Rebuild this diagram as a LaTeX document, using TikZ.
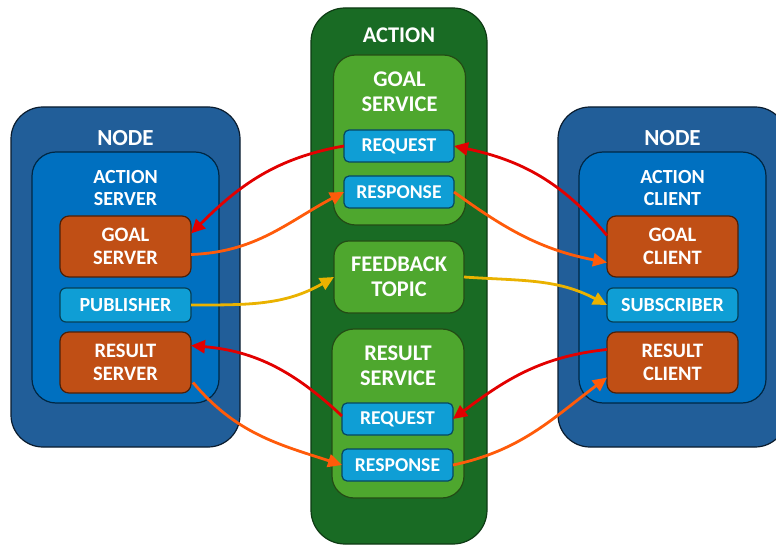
\documentclass[tikz,border=0pt]{standalone}
\usepackage{fontspec}
\setmainfont{Carlito}
\usetikzlibrary{arrows.meta,calc}

\definecolor{nodeblue}{HTML}{215E99}
\definecolor{innerblue}{HTML}{0070C0}
\definecolor{boxorange}{HTML}{C04F15}
\definecolor{lightblue}{HTML}{0F9ED5}
\definecolor{darkgreen}{HTML}{196B24}
\definecolor{lightgreen}{HTML}{4EA72E}
\definecolor{arrred}{HTML}{E20000}
\definecolor{arrorange}{HTML}{FF5B0A}
\definecolor{arryellow}{HTML}{EAB200}

\tikzset{
  x=1pt, y=1pt,
  base/.style={inner sep=0pt, outer sep=0pt, text=white, font=\bfseries, align=center},
  outernode/.style={base, draw=black!70!nodeblue, line width=1.2pt, fill=nodeblue,
    minimum width=229pt, minimum height=340pt, rounded corners=32pt},
  innernode/.style={base, draw=black!65!innerblue, line width=1.2pt, fill=innerblue,
    minimum width=187pt, minimum height=251pt, rounded corners=24pt},
  orangebox/.style={base, draw=black!60!boxorange, line width=1.2pt, fill=boxorange,
    minimum width=131pt, minimum height=61pt, rounded corners=9pt, font=\bfseries\fontsize{20.5}{23}\selectfont},
  bluebox/.style={base, draw=black!60!lightblue, line width=1.2pt, fill=lightblue,
    minimum width=131pt, minimum height=34pt, rounded corners=6pt, font=\bfseries\fontsize{20}{22}\selectfont},
  msgbox/.style={base, draw=black!55!lightblue, line width=1.2pt, fill=lightblue,
    minimum width=110pt, minimum height=32pt, rounded corners=5pt, font=\bfseries\fontsize{19.6}{22}\selectfont},
  actionbox/.style={base, draw=black!45!darkgreen, line width=1.2pt, fill=darkgreen,
    minimum width=176pt, minimum height=536pt, rounded corners=34pt},
  servicebox/.style={base, draw=black!55!lightgreen, line width=1.2pt, fill=lightgreen,
    minimum width=132pt, minimum height=170pt, rounded corners=22pt},
  topicbox/.style={base, draw=black!55!lightgreen, line width=1.2pt, fill=lightgreen,
    minimum width=130pt, minimum height=72pt, rounded corners=15pt, font=\bfseries\fontsize{22.4}{25}\selectfont},
  bigtitle/.style={base, font=\bfseries\fontsize{23}{27}\selectfont},
  title/.style={base, font=\bfseries\fontsize{22.4}{25}\selectfont},
  subtitle/.style={base, font=\bfseries\fontsize{20}{22}\selectfont},
  flow/.style={line width=2.8pt, -{Triangle[length=14pt,width=13pt]}},
}

\begin{document}
\begin{tikzpicture}
\useasboundingbox (0,0) rectangle (776,-545);
\clip (0,0) rectangle (776,-545);

% ---- left node: action server ----
\node[outernode] (lnode) at (125.5,-277) {};
\node[bigtitle] (lnodetitle) at (125.5,-138.5) {NODE};
\node[innernode] (aserver) at (125.5,-277.5) {};
\node[subtitle] (aservertitle) at (125.5,-188) {ACTION\\SERVER};
\node[orangebox] (gserver) at (125.5,-246.5) {GOAL\\SERVER};
\node[bluebox] (pub) at (125.5,-305) {PUBLISHER};
\node[orangebox] (rserver) at (125.5,-362.5) {RESULT\\SERVER};

% ---- action ----
\node[actionbox] (action) at (399,-276) {};
\node[title] (actiontitle) at (399,-35.5) {ACTION};
\node[servicebox] (gservice) at (399.5,-140) {};
\node[title] (gservicetitle) at (399.5,-92) {GOAL\\SERVICE};
\node[msgbox] (req1) at (399,-146) {REQUEST};
\node[msgbox] (resp1) at (399,-192) {RESPONSE};
\node[topicbox] (feedback) at (399,-277) {FEEDBACK\\TOPIC};
\node[servicebox, minimum height=169pt] (rservice) at (398,-413.5) {};
\node[title] (rservicetitle) at (398,-366) {RESULT\\SERVICE};
\node[msgbox, minimum width=111pt] (req2) at (397.5,-419) {REQUEST};
\node[msgbox, minimum width=111pt] (resp2) at (397.5,-465) {RESPONSE};

% ---- right node: action client ----
\node[outernode] (rnode) at (672.5,-277) {};
\node[bigtitle] (rnodetitle) at (672.5,-138.5) {NODE};
\node[innernode] (aclient) at (672.5,-277.5) {};
\node[subtitle] (aclienttitle) at (672.5,-188) {ACTION\\CLIENT};
\node[orangebox] (gclient) at (672.5,-246.5) {GOAL\\CLIENT};
\node[bluebox] (sub) at (672.5,-305) {SUBSCRIBER};
\node[orangebox] (rclient) at (672.5,-362.5) {RESULT\\CLIENT};

% ---- goal service exchange ----
\draw[flow, arrred] (req1.west) to[out=190, in=45] ($(gserver.east)+(0,13)$);
\draw[flow, arrorange] ($(gserver.east)+(0,-8)$) to[out=2, in=208] (resp1.west);
\draw[flow, arrred] ($(gclient.west)+(0,11)$) to[out=130, in=-12] (req1.east);
\draw[flow, arrorange] (resp1.east) to[out=-36, in=169] ($(gclient.west)+(0,-16)$);

% ---- feedback topic ----
\draw[flow, arryellow] (pub.east) to[out=0, in=210] (feedback.west);
\draw[flow, arryellow] (feedback.east) to[out=-4, in=152] (sub.west);

% ---- result service exchange ----
\draw[flow, arrred] ($(req2.west)+(0,3)$) to[out=137, in=-5] ($(rserver.east)+(0,17)$);
\draw[flow, arrorange] ($(rserver.east)+(2,-20)$) to[out=-50, in=162] (resp2.west);
\draw[flow, arrred] ($(rclient.west)+(0,13)$) to[out=186, in=37] (req2.east);
\draw[flow, arrorange] (resp2.east) to[out=12, in=217] ($(rclient.west)+(0,-15)$);
\end{tikzpicture}
\end{document}
